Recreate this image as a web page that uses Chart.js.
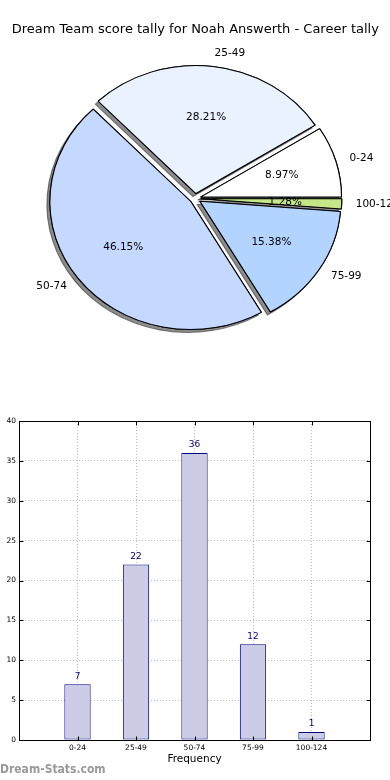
<!DOCTYPE html>
<html><head><meta charset="utf-8">
<script src="https://cdn.jsdelivr.net/npm/chart.js@4.4.0/dist/chart.umd.min.js"></script>
<style>
html,body{margin:0;padding:0;background:#fff;width:390px;height:780px;overflow:hidden}
#pie{position:absolute;left:0;top:0}
#bar{position:absolute;left:0;top:400px}
</style></head><body>
<canvas id="pie" width="390" height="400"></canvas>
<canvas id="bar" width="390" height="380"></canvas>
<script>
const categories = ['0-24', '25-49', '50-74', '75-99', '100-124'];
const frequencies = [7, 22, 36, 12, 1];
const sliceColors = ['#ffffff', '#eaf2ff', '#c5d8ff', '#b3d4ff', '#c6e788'];
const yTickValues = [0, 5, 10, 15, 20, 25, 30, 35, 40];
const titleText = 'Dream Team score tally for Noah Answerth - Career tally';
const watermark = 'Dream-Stats.com';

Chart.defaults.font.family = '"DejaVu Sans", sans-serif';
Chart.defaults.color = '#000';

// pie drawn clockwise from 3 o'clock -> reverse order to mimic counter-clockwise layout
const pieLabels = categories.slice().reverse();
const pieValues = frequencies.slice().reverse();
const pieColors = sliceColors.slice().reverse();

const SX = 141 / 128; // horizontal stretch (pie is an ellipse in the reference)
const EXPLODE = 5;    // px each slice is pushed out along its mid angle

const pieDecor = {
  id: 'pieDecor',
  beforeDatasetDraw(chart, args) {
    const ctx = chart.ctx;
    const arcs = args.meta.data;
    const a = arcs[0];
    const drawAll = () => arcs.forEach(arc => {
      const mid = (arc.startAngle + arc.endAngle) / 2;
      ctx.save();
      ctx.translate(Math.cos(mid) * EXPLODE, Math.sin(mid) * EXPLODE);
      arc.draw(ctx);
      ctx.restore();
    });
    ctx.save();
    ctx.translate(a.x, a.y); ctx.scale(SX, 1); ctx.translate(-a.x, -a.y);
    // pass 1: shadows
    ctx.save();
    ctx.shadowColor = 'rgba(0,0,0,0.45)';
    ctx.shadowOffsetX = -3; ctx.shadowOffsetY = 3; ctx.shadowBlur = 0;
    drawAll();
    ctx.restore();
    // pass 2: slices
    drawAll();
    ctx.restore();
    return false;
  },
  afterDatasetsDraw(chart) {
    const ctx = chart.ctx;
    const meta = chart.getDatasetMeta(0);
    const ds = chart.data.datasets[0];
    const total = ds.data.reduce((s, v) => s + v, 0);
    ctx.save();
    ctx.font = '10.5px "DejaVu Sans"';
    ctx.fillStyle = '#000';
    ctx.textBaseline = 'middle';
    meta.data.forEach((arc, i) => {
      const p = arc.getProps(['x', 'y', 'startAngle', 'endAngle', 'outerRadius'], true);
      const mid = (p.startAngle + p.endAngle) / 2;
      const c = Math.cos(mid), s = Math.sin(mid);
      const r1 = EXPLODE + 0.6 * p.outerRadius, r2 = EXPLODE + 1.1 * p.outerRadius;
      ctx.textAlign = 'center';
      ctx.fillText((ds.data[i] / total * 100).toFixed(2) + '%', p.x + SX * r1 * c, p.y + r1 * s);
      ctx.textAlign = c > 0 ? 'left' : 'right';
      ctx.fillText(chart.data.labels[i], p.x + SX * r2 * c, p.y + r2 * s);
    });
    ctx.restore();
  }
};

new Chart(document.getElementById('pie'), {
  type: 'pie',
  data: {
    labels: pieLabels,
    datasets: [{
      data: pieValues,
      backgroundColor: pieColors,
      borderColor: '#000',
      borderWidth: 1,
      offset: 0,
      hoverOffset: 0,
      clip: false
    }]
  },
  options: {
    responsive: false,
    animation: false,
    rotation: 90,
    radius: 128,
    layout: { padding: { top: 0, bottom: 40.6, left: 0.5, right: 0 } },
    events: [],
    plugins: {
      legend: { display: false },
      tooltip: { enabled: false },
      title: {
        display: true, text: titleText, color: '#000',
        font: { size: 13, weight: 'normal' },
        padding: { top: 22, bottom: 0 }
      }
    }
  },
  plugins: [pieDecor]
});

const barDecor = {
  id: 'barDecor',
  afterDraw(chart) {
    const { ctx, chartArea: a, scales: { x, y } } = chart;
    ctx.save();
    const L = Math.floor(a.left) + 0.5, R = Math.floor(a.right) + 0.5;
    const T = Math.floor(a.top) + 0.5, B = Math.floor(a.bottom) + 0.5;
    ctx.strokeStyle = '#000'; ctx.lineWidth = 1;
    ctx.beginPath();
    y.ticks.forEach(t => {
      const yy = Math.round(y.getPixelForValue(t.value)) + 0.5;
      ctx.moveTo(L, yy); ctx.lineTo(L + 4, yy);
      ctx.moveTo(R, yy); ctx.lineTo(R - 4, yy);
    });
    x.ticks.forEach(t => {
      const xx = Math.round(x.getPixelForValue(t.value)) + 0.5;
      ctx.moveTo(xx, B); ctx.lineTo(xx, B - 4);
      ctx.moveTo(xx, T); ctx.lineTo(xx, T + 4);
    });
    ctx.stroke();
    ctx.strokeRect(L, T, R - L, B - T);
    // value labels
    const meta = chart.getDatasetMeta(0);
    ctx.font = '9px "DejaVu Sans"';
    ctx.fillStyle = '#000080';
    ctx.textAlign = 'center'; ctx.textBaseline = 'middle';
    meta.data.forEach((el, i) => {
      ctx.fillText(String(frequencies[i]), el.x, el.y - 8);
    });
    // watermark
    ctx.font = 'bold 12px "DejaVu Sans Condensed", "DejaVu Sans"';
    ctx.fillStyle = '#999';
    ctx.textAlign = 'left';
    ctx.fillText(watermark, 0, 370);
    ctx.restore();
  }
};

new Chart(document.getElementById('bar'), {
  type: 'bar',
  data: {
    datasets: [{
      data: frequencies.map((v, i) => ({ x: i, y: v })),
      backgroundColor: '#ccccE6',
      borderColor: '#000080',
      borderWidth: 1,
      borderSkipped: false,
      barPercentage: 0.45,
      categoryPercentage: 1
    }]
  },
  options: {
    responsive: false,
    animation: false,
    events: [],
    layout: { padding: { top: 21, right: 20, left: 0, bottom: 0 } },
    plugins: { legend: { display: false }, tooltip: { enabled: false } },
    scales: {
      x: {
        type: 'linear', min: -1, max: 5, z: 1, offset: false,
        afterBuildTicks: s => { s.ticks = categories.map((c, i) => ({ value: i })); },
        afterFit: s => { s.height = 40; },
        ticks: { callback: v => categories[v], font: { size: 7.5 }, color: '#000', padding: 4, maxRotation: 0, autoSkip: false },
        grid: { color: '#bdbdbd', drawTicks: false, lineWidth: 1, offset: false },
        border: { display: false, dash: [1, 2] },
        title: { display: true, text: 'Frequency', color: '#000', font: { size: 10.5 }, padding: { top: 0, bottom: 14 } }
      },
      y: {
        min: 0, max: 40, z: 1,
        afterBuildTicks: s => { s.ticks = yTickValues.map(v => ({ value: v })); },
        afterFit: s => { s.width = 19; },
        ticks: { font: { size: 7.5 }, color: '#000', padding: 3 },
        grid: { color: '#bdbdbd', drawTicks: false, lineWidth: 1 },
        border: { display: false, dash: [1, 2] }
      }
    }
  },
  plugins: [barDecor]
});
</script>
</body></html>
